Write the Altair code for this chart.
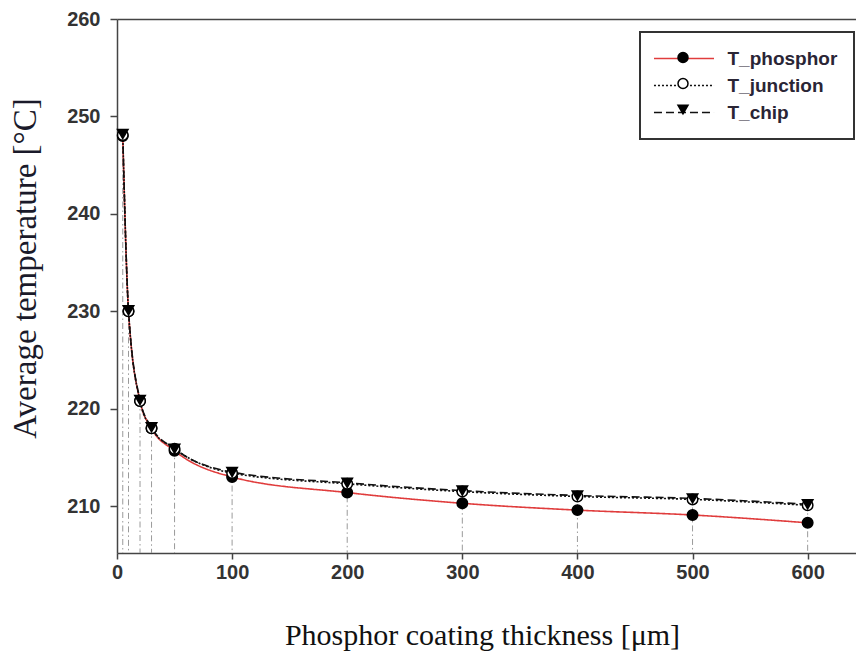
import altair as alt
import pandas as pd

# ---- data ----
thickness = [5, 10, 20, 30, 50, 100, 200, 300, 400, 500, 600]
t_phosphor = [248.0, 230.0, 220.8, 218.0, 215.7, 213.0, 211.4, 210.3, 209.6, 209.1, 208.3]
t_junction = [248.1, 230.0, 220.8, 218.0, 215.9, 213.4, 212.3, 211.5, 211.0, 210.7, 210.1]
t_chip = [248.2, 230.1, 220.9, 218.1, 215.9, 213.5, 212.4, 211.6, 211.1, 210.8, 210.2]
series_names = ["T_phosphor", "T_junction", "T_chip"]
x_ticks = [0, 100, 200, 300, 400, 500, 600]
y_ticks = [210, 220, 230, 240, 250, 260]
X_DOMAIN = [0, 642]
Y_DOMAIN = [205.2, 260]

# marker keys differ from line keys so the two legends stay separate
marker_keys = ["m_" + s for s in series_names]

rows = []
for name, mkey, vals in zip(series_names, marker_keys, [t_phosphor, t_junction, t_chip]):
    for x, v in zip(thickness, vals):
        rows.append({"thickness": x, "temp": v, "series": name, "series_m": mkey})
long_df = pd.DataFrame(rows)
wide_df = pd.DataFrame({"thickness": thickness, "temp": t_chip})

xs = alt.Scale(domain=X_DOMAIN, nice=False, zero=False)
ys = alt.Scale(domain=Y_DOMAIN, nice=False, zero=False)

AXIS_COLOR = "#444444"
LABEL_FONT = "Liberation Sans"
TITLE_FONT = "Liberation Serif"

x_axis = alt.Axis(
    values=x_ticks, format="d", title="Phosphor coating thickness [μm]", grid=False,
    tickSize=6, tickColor=AXIS_COLOR, tickWidth=1.5, domainColor=AXIS_COLOR, domainWidth=1.5,
    labelPadding=3, labelFont=LABEL_FONT, labelFontSize=20, labelFontWeight="bold",
    labelColor="#333333", labelFlush=False, labelOverlap=False,
    titleFont=TITLE_FONT, titleFontSize=30, titleFontWeight="normal", titleColor="#111111",
    titleX=365, titleY=82, titleBaseline="middle", titleAlign="center",
)
y_axis = alt.Axis(
    values=y_ticks, format="d", title="Average temperature [°C]", grid=False,
    tickSize=7, tickColor=AXIS_COLOR, tickWidth=1.5, domainColor=AXIS_COLOR, domainWidth=1.5,
    labelPadding=10, labelFont=LABEL_FONT, labelFontSize=20, labelFontWeight="bold",
    labelColor="#333333", labelFlush=False, labelOverlap=False,
    titleFont=TITLE_FONT, titleFontSize=33, titleFontWeight="normal", titleColor="#1a1a2a",
    titleX=-92, titleY=249, titleAngle=-90, titleBaseline="middle", titleAlign="center",
)
top_axis = alt.Axis(orient="top", labels=False, ticks=False, title=None, grid=False,
                    domainColor=AXIS_COLOR, domainWidth=1.5)

leg_lines = alt.Legend(
    title=None, orient="none", legendX=523, legendY=13,
    symbolType="M-3.16,0H3.16", symbolSize=361, symbolStrokeWidth=1.6,
    symbolOffset=17.5, labelOffset=33,
    labelColor="#2a2535", strokeColor="#333333", fillColor="white", zindex=0,
)
leg_marks = alt.Legend(
    title=None, orient="none", legendX=523, legendY=13, symbolSize=100,
    symbolStrokeWidth=1.5, symbolStrokeColor="black", symbolOffset=17.5,
    labelExpr="' '", labelOpacity=0, zindex=1,
)

drops = alt.Chart(wide_df).mark_rule(color="#9a9a9a", strokeWidth=1, strokeDash=[6, 3, 1.5, 3]).encode(
    x=alt.X("thickness:Q", scale=xs, axis=top_axis),
    y=alt.Y("temp:Q", scale=ys, axis=y_axis),
    y2=alt.datum(Y_DOMAIN[0]),
)

lines = alt.Chart(long_df).mark_line(interpolate="monotone", strokeWidth=1.6).encode(
    x=alt.X("thickness:Q", scale=xs, axis=None),
    y=alt.Y("temp:Q", scale=ys, axis=y_axis),
    color=alt.Color("series:N", scale=alt.Scale(domain=series_names, range=["#e03c3c", "#111111", "#111111"]), legend=leg_lines),
    strokeDash=alt.StrokeDash("series:N", scale=alt.Scale(domain=series_names, range=[[1, 0], [2, 2], [8, 4]]), legend=leg_lines),
    order="thickness:Q",
)

points = alt.Chart(long_df).mark_point(size=110, strokeWidth=1.5, opacity=1, fillOpacity=1).encode(
    x=alt.X("thickness:Q", scale=xs, axis=x_axis),
    y=alt.Y("temp:Q", scale=ys, axis=y_axis),
    fill=alt.Fill("series_m:N", scale=alt.Scale(domain=marker_keys, range=["black", "white", "black"]), legend=leg_marks),
    stroke=alt.Stroke("series_m:N", scale=alt.Scale(domain=marker_keys, range=["black", "black", "black"]), legend=leg_marks),
    shape=alt.Shape("series_m:N", scale=alt.Scale(domain=marker_keys, range=["circle", "circle", "triangle-down"]), legend=leg_marks),
)

chart = alt.layer(drops, lines, points).resolve_axis(x="independent").properties(
    width=739, height=534,
    autosize=alt.AutoSizeParams(type="none"),
    padding={"left": 117, "top": 19, "right": 0, "bottom": 104},
).configure_view(stroke=None).configure_legend(
    padding=16, rowPadding=6, labelFont=LABEL_FONT, labelFontSize=19,
    labelFontWeight="bold", labelLimit=300, strokeWidth=2,
)

chart.save("out.html", embed_options={"renderer": "svg", "actions": False})
